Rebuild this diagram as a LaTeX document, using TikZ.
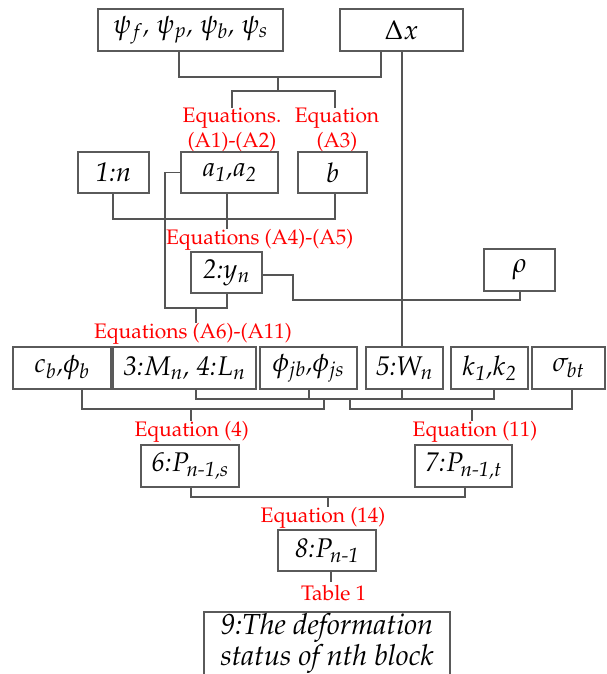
\documentclass[tikz,border=0pt]{standalone}
\usepackage[T1]{fontenc}
\usepackage{amsmath}
\usepackage{mathpazo}
\definecolor{boxc}{HTML}{5A5A5A}
\definecolor{wirec}{HTML}{555555}
\tikzset{
  box/.style={draw=boxc, line width=1.1pt, inner sep=0pt, align=center,
    font=\fontsize{27}{30}\selectfont\itshape},
  lbl/.style={text=red, inner sep=0pt, align=center, anchor=north,
    font=\fontsize{21}{25}\selectfont},
  wire/.style={draw=wirec, line width=1.1pt}
}
\begin{document}
\begin{tikzpicture}[x=1pt,y=-1pt]
\useasboundingbox (0,0) rectangle (607,674);
% top row
\node[box, minimum width=185pt, minimum height=42pt] (psi) at (190.5,30) {$\psi_f$, $\psi_p$, $\psi_b$, $\psi_s$};
\node[box, minimum width=123pt, minimum height=42pt] (dx) at (401.5,30) {$\Delta x$};
% labels level 1
\node[lbl] (la12) at (232,108) {Equations.\\(A1)-(A2)};
\node[lbl] (la3) at (337,108) {Equation\\(A3)};
% second row
\node[box, minimum width=71pt, minimum height=41pt] (n1) at (113.5,172.5) {1:$n$};
\node[box, minimum width=97pt, minimum height=41pt] (a12) at (229.5,172.5) {$a_{\textit{1}}$,$a_{\textit{2}}$};
\node[box, minimum width=69pt, minimum height=41pt] (b) at (332.5,172.5) {$b$};
\node[lbl] (la45) at (259.7,229) {Equations (A4)-(A5)};
\node[box, minimum width=71pt, minimum height=41pt] (yn) at (226.5,272.5) {2:$y_n$};
\node[box, minimum width=71pt, minimum height=42pt] (rho) at (519.5,270) {$\rho$};
\node[lbl] (la611) at (193,323) {Equations (A6)-(A11)};
% third row
\node[box, minimum width=98pt, minimum height=42pt] (cb) at (62,368) {$c_b$,$\phi_b$};
\node[box, minimum width=143pt, minimum height=42pt] (mn) at (184.5,368) {3:$M_n$, 4:$L_n$};
\node[box, minimum width=97pt, minimum height=42pt] (phij) at (308.5,368) {$\phi_{jb}$,$\phi_{js}$};
\node[box, minimum width=77pt, minimum height=42pt] (wn) at (404.5,368) {5:$W_n$};
\node[box, minimum width=77pt, minimum height=42pt] (k) at (489.5,368) {$k_{\textit{1}}$,$k_{\textit{2}}$};
\node[box, minimum width=73pt, minimum height=42pt] (sig) at (568.5,368) {$\sigma_{bt}$};
\node[lbl] (le4) at (191.7,421) {Equation (4)};
\node[lbl] (le11) at (475,421) {Equation (11)};
% fourth row
\node[box, minimum width=98pt, minimum height=42pt] (p6) at (190,466) {6:$P_{\textit{n-1,s}}$};
\node[box, minimum width=97pt, minimum height=42pt] (p7) at (463.5,466) {7:$P_{\textit{n-1,t}}$};
\node[lbl] (le14) at (323,507) {Equation (14)};
\node[box, minimum width=98pt, minimum height=41pt] (p8) at (327,550.5) {8:$P_{\textit{n-1}}$};
\node[lbl] (lt1) at (333.7,585) {Table 1};
\node[box, minimum width=246pt, minimum height=64pt, font=\fontsize{29}{31}\selectfont\itshape] (b9) at (327,644) {9:The deformation\\status of nth block};
% connectors level 1
\coordinate (j1a) at (179,77); \coordinate (j1b) at (381,77);
\draw[wire] (psi.south -| j1a) -- (j1a) -- (j1b) -- (dx.south -| j1b);
\coordinate (j2) at (278,77); \coordinate (j2d) at (278,91);
\coordinate (j2l) at (232,91); \coordinate (j2r) at (335,91);
\draw[wire] (j2) -- (j2d);
\draw[wire] (la12.north -| j2l) -- (j2l) -- (j2r) -- (la3.north -| j2r);
% delta x long line
\coordinate (jx) at (402,0);
\draw[wire] (dx.south -| jx) -- (wn.north -| jx);
% level 2
\coordinate (j3a) at (113,219); \coordinate (j3b) at (335,219);
\draw[wire] (n1.south -| j3a) -- (j3a) -- (j3b) -- (b.south -| j3b);
\coordinate (j3c) at (227,0);
\draw[wire] (a12.south -| j3c) -- (la45.north -| j3c);
\coordinate (j4b) at (165,308); \coordinate (j4c) at (227,308);
\draw[wire] (a12.west) -- (a12.west -| j4b) -- (j4b) -- (j4c) -- (yn.south -| j4c);
\coordinate (j4d) at (196,308);
\draw[wire] (j4d) -- (la611.north -| j4d);
\coordinate (j5a) at (293,275); \coordinate (j5b) at (293,300); \coordinate (j5c) at (520,300);
\draw[wire] (yn.east |- j5a) -- (j5a) -- (j5b) -- (j5c) -- (rho.south -| j5c);
% level 3
\coordinate (r1) at (196,399); \coordinate (r2) at (494,399);
\draw[wire] (mn.south -| r1) -- (r1) -- (r2) -- (k.south -| r2);
\coordinate (r3) at (309,399); \coordinate (r4) at (402,399);
\draw[wire] (phij.south -| r3) -- (r3);
\draw[wire] (wn.south -| r4) -- (r4);
\coordinate (s1) at (324,399); \coordinate (s2) at (324,409); \coordinate (s3) at (82,409);
\draw[wire] (s1) -- (s2) -- (s3) -- (cb.south -| s3);
\coordinate (s4) at (191,409);
\draw[wire] (s4) -- (le4.north -| s4);
\coordinate (t1) at (350,399); \coordinate (t2) at (350,409); \coordinate (t3) at (572,409);
\draw[wire] (t1) -- (t2) -- (t3) -- (sig.south -| t3);
\coordinate (t4) at (472,409);
\draw[wire] (t4) -- (le11.north -| t4);
% level 4
\coordinate (u1) at (191,497); \coordinate (u2) at (465,497);
\draw[wire] (p6.south -| u1) -- (u1) -- (u2) -- (p7.south -| u2);
\coordinate (u3) at (328,497);
\draw[wire] (u3) -- (le14.north -| u3);
\coordinate (v1) at (331,0);
\draw[wire] (p8.south -| v1) -- ([yshift=3pt]lt1.north -| v1);
\end{tikzpicture}
\end{document}
